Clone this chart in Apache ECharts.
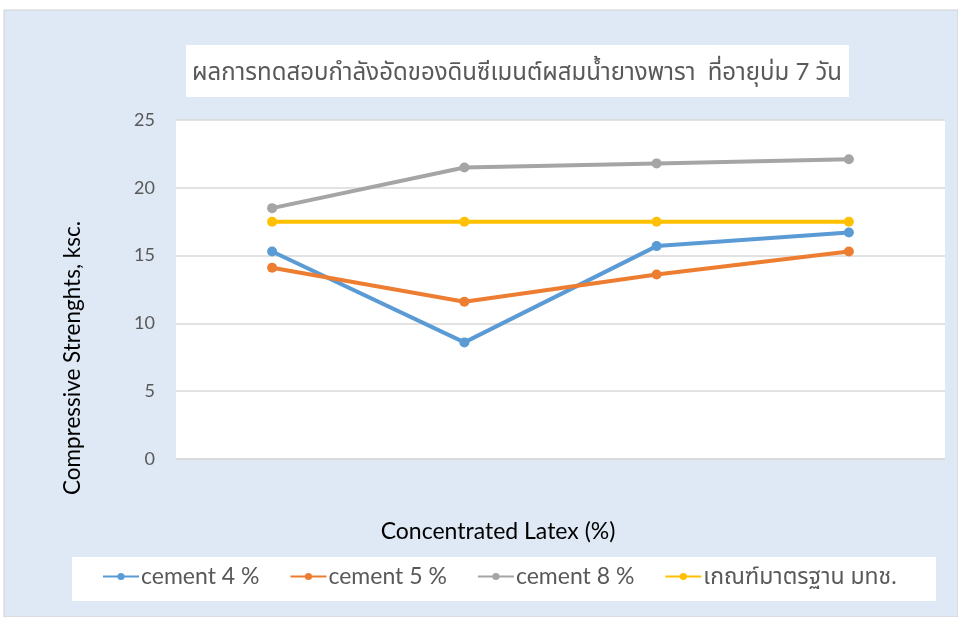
<!DOCTYPE html>
<html><head><meta charset="utf-8">
<script src="https://cdn.jsdelivr.net/npm/echarts@6/dist/echarts.min.js"></script>
<style>html,body{margin:0;padding:0;background:#fff}#c{width:958px;height:617px}</style>
</head><body><div id="c"></div>
<script>
var categories = ['0', '1', '2', '3'];
var cement4 = [15.3, 8.6, 15.7, 16.7];
var cement5 = [14.1, 11.6, 13.6, 15.3];
var cement8 = [18.5, 21.5, 21.8, 22.1];
var standard = [17.5, 17.5, 17.5, 17.5];
var seriesNames = ['cement 4 %', 'cement 5 %', 'cement 8 %', 'เกณฑ์มาตรฐาน มทช.'];
var colors = ['#5b9bd5', '#ed7d31', '#a5a5a5', '#ffc000'];
var titleText = 'ผลการทดสอบกำลังอัดของดินซีเมนต์ผสมน้ำยางพารา  ที่อายุบ่ม 7 วัน';
var xName = 'Concentrated Latex (%)';
var yName = 'Compressive Strenghts, ksc.';

var chart = echarts.init(document.getElementById('c'));
var font = 'Lato, "Noto Sans Thai", "Noto Sans", "DejaVu Sans", sans-serif';
function mk(name, data, i) {
  return {name: name, type: 'line', data: data, symbol: 'circle', symbolSize: 10,
    lineStyle: {width: 4, color: colors[i]}, itemStyle: {color: colors[i]}, z: 3};
}
chart.setOption({
  animation: false,
  textStyle: {fontFamily: font},
  graphic: [
    {type: 'rect', shape: {x: 4, y: 10, width: 954, height: 607}, style: {fill: '#dee9f5', stroke: '#d0d0d0', lineWidth: 1}, z: -10},
    {type: 'rect', shape: {x: 186, y: 45, width: 663, height: 52}, style: {fill: '#ffffff'}, z: -5},
    {type: 'rect', shape: {x: 72, y: 557, width: 864, height: 44}, style: {fill: '#ffffff'}, z: -5},
    {type: 'text', x: 517, y: 72, style: {text: titleText, textAlign: 'center', textVerticalAlign: 'middle', fill: '#595959', font: '24px ' + font}},
    {type: 'text', x: 498, y: 532, style: {text: xName, textAlign: 'center', textVerticalAlign: 'middle', fill: '#000000', font: '23px ' + font}},
    {type: 'text', x: 73, y: 358, rotation: Math.PI / 2, style: {text: yName, textAlign: 'center', textVerticalAlign: 'middle', fill: '#000000', font: '22.5px ' + font}}
  ],
  legend: {
    data: seriesNames, top: 565, left: 102, itemWidth: 36, itemHeight: 9, itemGap: 30, padding: 0,
    textStyle: {fontSize: 23, color: '#595959', fontFamily: font, padding: [0, 0, 0, -3]}
  },
  grid: {left: 176, right: 13, top: 120, bottom: 158, show: true, backgroundColor: '#ffffff', borderWidth: 0},
  xAxis: {
    type: 'category', data: categories, boundaryGap: true,
    axisLabel: {show: false}, axisTick: {show: false},
    axisLine: {show: true, lineStyle: {color: '#d9d9d9', width: 1.5}}
  },
  yAxis: {
    type: 'value', min: 0, max: 25, interval: 5,
    axisLine: {show: false}, axisTick: {show: false},
    splitLine: {lineStyle: {color: '#d9d9d9', width: 1.5}},
    axisLabel: {fontSize: 18, color: '#595959', margin: 21, fontFamily: font}
  },
  series: [mk(seriesNames[0], cement4, 0), mk(seriesNames[1], cement5, 1), mk(seriesNames[2], cement8, 2), mk(seriesNames[3], standard, 3)]
});
</script></body></html>
